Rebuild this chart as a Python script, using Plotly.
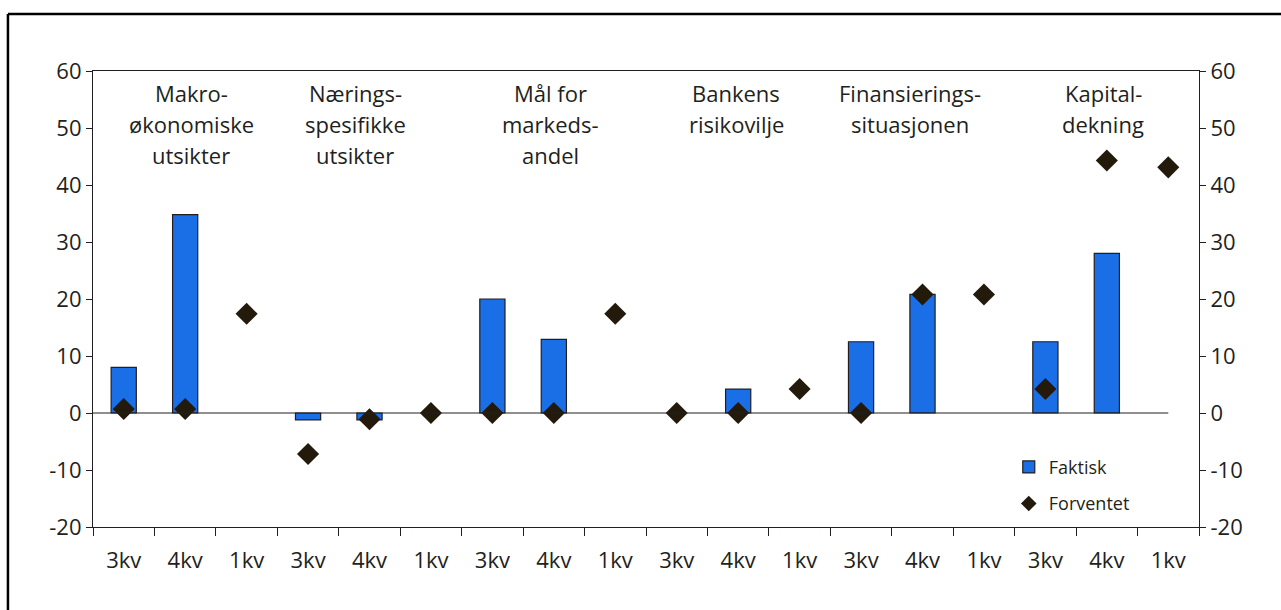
import plotly.graph_objects as go

# Quarter labels for each of the six survey questions
quarters = ["3kv", "4kv", "1kv"] * 6
groups = [
    ["Makro-", "økonomiske", "utsikter"],
    ["Nærings-", "spesifikke", "utsikter"],
    ["Mål for", "markeds-", "andel"],
    ["Bankens", "risikovilje"],
    ["Finansierings-", "situasjonen"],
    ["Kapital-", "dekning"],
]
# Actual (bars) and expected (diamonds), net share in percent
faktisk = [8, 34.8, None, -1.2, -1.2, None, 20, 12.9, None,
           None, 4.2, None, 12.5, 20.8, None, 12.5, 28, None]
forventet = [0.7, 0.7, 17.4, -7.2, -1.1, 0, 0, 0, 17.4,
             0, 0, 4.2, 0, 20.8, 20.8, 4.2, 44.3, 43.1]
# Value axis ticks (labels use a plain hyphen for negatives)
y_ticks = [-20, -10, 0, 10, 20, 30, 40, 50, 60]
y_ticktext = [str(v) for v in y_ticks]

# Small horizontal nudges for the group headings
group_shift = [0.1, -0.23, -0.05, -0.03, -0.2, -0.06]
# Vertical placement (paper units) of heading lines 1-3
line_y = [0.952, 0.884, 0.816]

INK = "#231f20"
FONT = "Open Sans"
pos = list(range(len(quarters)))

fig = go.Figure()
fig.add_trace(go.Bar(
    x=pos, y=faktisk, name="Faktisk", width=0.41,
    marker=dict(color="#1a6ee6", line=dict(color=INK, width=1.2)),
    legend="legend",
))
fig.add_trace(go.Scatter(
    x=pos, y=forventet, name="Forventet", mode="markers",
    marker=dict(symbol="diamond", size=17, color="#231a0c"),
    legend="legend2",
))
# Invisible trace carrying the right-hand axis
fig.add_trace(go.Scatter(x=[0], y=[0], yaxis="y2", mode="markers",
                         marker=dict(opacity=0), showlegend=False,
                         hoverinfo="skip"))
# Invisible trace carrying the quarter label axis
fig.add_trace(go.Scatter(x=[0], y=[0], xaxis="x2", mode="markers",
                         marker=dict(opacity=0), showlegend=False,
                         hoverinfo="skip"))

n = len(quarters)
boundaries = [i - 0.5 for i in range(n + 1)]

axis_font = dict(family=FONT, size=22, color=INK)
yaxis_common = dict(range=[-20, 60], tickvals=y_ticks, ticktext=y_ticktext,
                    ticks="outside", ticklen=6, tickcolor=INK, tickwidth=1.2,
                    showline=True, linecolor=INK, linewidth=1.2,
                    showgrid=False, zeroline=False, tickfont=axis_font)
fig.update_layout(
    width=1281, height=610,
    margin=dict(l=93, r=82, t=71, b=83),
    paper_bgcolor="white", plot_bgcolor="white",
    font=axis_font,
    showlegend=True,
    xaxis=dict(range=[-0.5, n - 0.5], tickvals=boundaries,
               showticklabels=False, ticks="outside", ticklen=8,
               tickcolor=INK, tickwidth=1.2, showline=True, linecolor=INK,
               linewidth=1.2, mirror=True, showgrid=False, zeroline=False),
    xaxis2=dict(range=[-0.5, n - 0.5], overlaying="x", anchor="y",
                side="bottom", tickvals=pos, ticktext=quarters, ticks="",
                showline=False, showgrid=False, zeroline=False,
                tickfont=axis_font, ticklabelstandoff=18),
    yaxis=dict(**yaxis_common),
    yaxis2=dict(**yaxis_common, overlaying="y", side="right"),
    legend=dict(x=0.828, y=0.131, xanchor="left", yanchor="middle",
                bgcolor="rgba(0,0,0,0)",
                font=dict(family=FONT, size=18, color=INK)),
    legend2=dict(x=0.828, y=0.051, xanchor="left", yanchor="middle",
                 bgcolor="rgba(0,0,0,0)", itemsizing="constant",
                 font=dict(family=FONT, size=18, color=INK)),
)

# Zero line stops at the centre of the last category
fig.add_shape(type="line", x0=-0.5, x1=n - 1, y0=0, y1=0,
              line=dict(color=INK, width=1.2), layer="above")

# Group headings above each block of three quarters, one line at a time
for g, (lines, shift) in enumerate(zip(groups, group_shift)):
    for k, text in enumerate(lines):
        fig.add_annotation(x=3 * g + 1 + shift, y=line_y[k],
                           xref="x", yref="paper", text=text,
                           showarrow=False, yanchor="middle",
                           font=dict(family=FONT, size=22, color=INK))

# Outer frame (left and top edges)
fig.add_shape(type="line", xref="paper", yref="paper",
              x0=-0.0769, x1=-0.0769, y0=1.125, y1=-0.3,
              line=dict(color="black", width=2.5))
fig.add_shape(type="line", xref="paper", yref="paper",
              x0=-0.0769, x1=1.2, y0=1.125, y1=1.125,
              line=dict(color="black", width=2.5))

fig.write_html("out.html")
